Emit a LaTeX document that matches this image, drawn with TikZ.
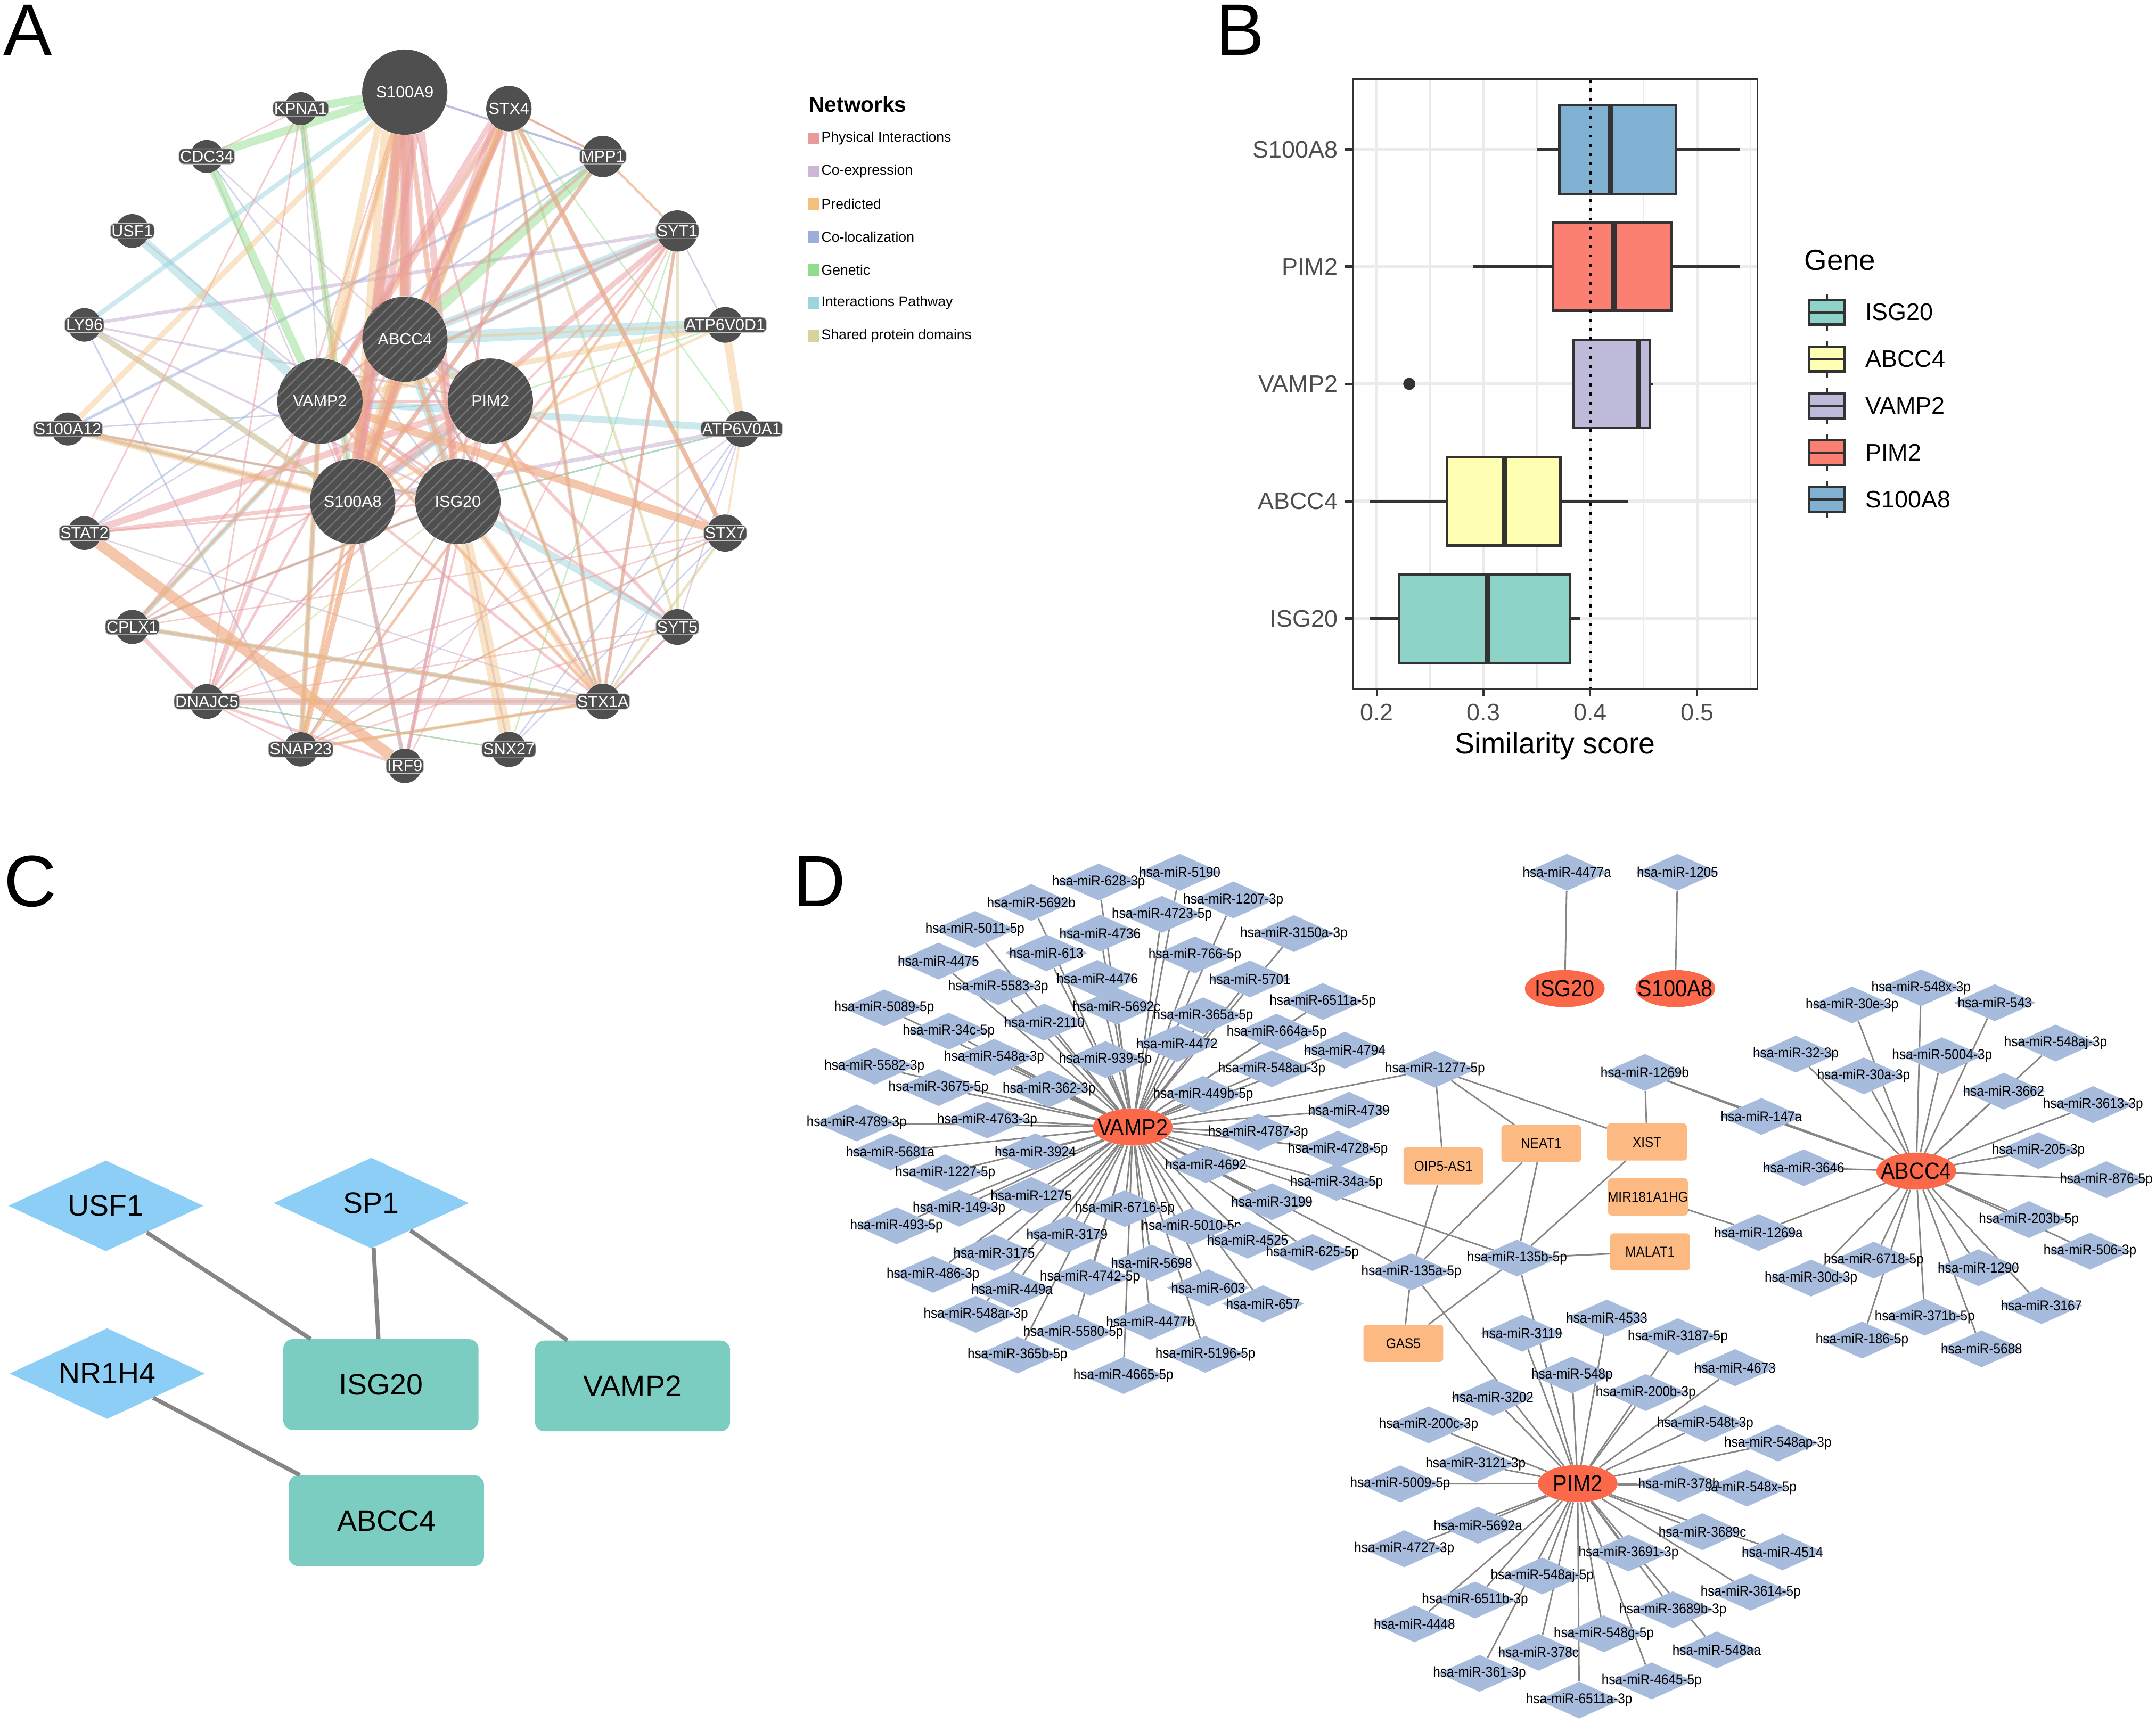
\documentclass[tikz,border=0pt]{standalone}
\usepackage{fontspec}
\setmainfont{Liberation Sans}
\usetikzlibrary{shapes.geometric}
\usetikzlibrary{patterns.meta}
\pgfdeclarelayer{back}
\pgfsetlayers{back,main}
\definecolor{genedark}{HTML}{4F4F4F}
\definecolor{hatchcol}{HTML}{767676}
\definecolor{rimcol}{HTML}{C8C8C8}
\definecolor{physcol}{HTML}{E99A9B}
\definecolor{coexcol}{HTML}{CCB6D6}
\definecolor{predcol}{HTML}{F4BE7C}
\definecolor{colocol}{HTML}{9CAEDC}
\definecolor{genecol}{HTML}{8FDD8A}
\definecolor{pathcol}{HTML}{9AD6DC}
\definecolor{domcol}{HTML}{D8D29C}
\definecolor{mircol}{HTML}{A7BCDD}
\definecolor{hubcol}{HTML}{FC694A}
\definecolor{lnccol}{HTML}{FCBA82}
\definecolor{tfcol}{HTML}{8CCEF5}
\definecolor{mrnacol}{HTML}{7CCDC1}
\definecolor{plotdark}{HTML}{333333}
\definecolor{ticktext}{HTML}{4D4D4D}
\definecolor{gridcol}{HTML}{EBEBEB}
\tikzset{
  panel/.style={font=\fontsize{53}{53}\selectfont,inner sep=0pt},
  gene/.style={circle,inner sep=0pt,fill=genedark,text=white,font=\fontsize{11.8}{12}\selectfont},
  genelab/.style={rectangle,rounded corners=3.5pt,fill=genedark,draw=rimcol,line width=.5pt,text=white,inner xsep=.9pt,inner ysep=1.4pt,font=\fontsize{11.8}{12}\selectfont},
  query/.style={gene,minimum size=62pt,postaction={pattern={Lines[angle=45,distance=5.5pt,line width=.9pt]},pattern color=hatchcol}},
  phys/.style={physcol,opacity=.5},
  coex/.style={coexcol,opacity=.6},
  pred/.style={predcol,opacity=.42},
  colo/.style={colocol,opacity=.55},
  genet/.style={genecol,opacity=.5},
  pathw/.style={pathcol,opacity=.5},
  shdom/.style={domcol,opacity=.6},
  swatch/.style={fill,minimum size=8.4pt,inner sep=0pt},
  legtext/.style={anchor=west,inner sep=0pt,font=\fontsize{10.3}{12}\selectfont},
  ticklab/.style={ticktext,inner sep=0pt,font=\fontsize{17.4}{18}\selectfont},
  keylab/.style={anchor=west,inner sep=0pt,font=\fontsize{17.4}{18}\selectfont},
  tf/.style={diamond,fill=tfcol,minimum width=142pt,minimum height=66pt,inner sep=0pt,font=\fontsize{21.5}{22}\selectfont},
  mrna/.style={rectangle,rounded corners=7pt,fill=mrnacol,minimum width=142pt,minimum height=66pt,inner sep=0pt,font=\fontsize{21.5}{22}\selectfont},
  regline/.style={draw=gray!95,line width=3pt},
  mirna/.style={diamond,fill=mircol,minimum width=60pt,minimum height=27pt,inner sep=0pt,font=\fontsize{10.4}{11}\selectfont},
  hub/.style={ellipse,fill=hubcol,minimum width=58pt,minimum height=27pt,inner sep=0pt,font=\fontsize{17}{18}\selectfont},
  lnc/.style={rectangle,rounded corners=2.5pt,fill=lnccol,minimum width=58pt,minimum height=27pt,inner sep=0pt,font=\fontsize{10.4}{11}\selectfont},
  mirline/.style={draw=gray!95,line width=1.1pt}
}
\newcommand{\flatlab}[1]{\makebox[0pt][c]{#1}}
\newcommand{\narrowlab}[1]{\makebox[0pt][c]{\scalebox{.905}[1]{#1}}}
\newcommand{\mirlab}[1]{\narrowlab{hsa-miR-#1}}
\begin{document}
\begin{tikzpicture}[x=1pt,y=-1pt]
  \useasboundingbox (0,0) rectangle (1568,1252.8);
  \node[panel] (panelA) at (20,22) {A};
  \node[panel] (panelB) at (902,22) {B};
  \node[panel] (panelC) at (22,641) {C};
  \node[panel] (panelD) at (596,641) {D};

  \node[gene,minimum size=62pt] (aS100A9) at (294.4,67) {S100A9};
  \node[gene,minimum size=33pt] (aSTX4) at ({294.4+245*sin(18)},{312-245*cos(18)}) {STX4};
  \foreach \gname/\gi/\gd in {MPP1/2/30,SYT1/3/30,ATP6V0D1/4/26,ATP6V0A1/5/26,STX7/6/27,SYT5/7/26,STX1A/8/26,SNX27/9/25.6,IRF9/10/25,SNAP23/11/25,DNAJC5/12/25.4,CPLX1/13/24.8,STAT2/14/24.6,S100A12/15/24,LY96/16/24.4,USF1/17/24.6,CDC34/18/24,KPNA1/19/24}{
    \node[gene,minimum size=\gd pt] (a\gname) at ({294.4+245*sin(18*\gi)},{312-245*cos(18*\gi)}) {};
    \node[genelab] (t\gname) at (a\gname) {\gname};
  }
  \node[query] (aABCC4) at (294.5,246.7) {ABCC4};
  \node[query] (aVAMP2) at (232.7,291.7) {VAMP2};
  \node[query] (aPIM2) at (356.6,291.7) {PIM2};
  \node[query] (aS100A8) at (256.5,364.7) {S100A8};
  \node[query] (aISG20) at (333,364.7) {ISG20};

  \begin{pgfonlayer}{back}
    \foreach \ea/\eb/\ew in {STX4/STX1A/3,STX4/STX7/3,STX4/SYT5/2,STX7/STX1A/2,SYT1/SYT5/2,SYT1/STX1A/2,S100A12/S100A8/3,STX4/S100A8/2,STX4/ABCC4/2,MPP1/STX4/1,SNAP23/STX7/1.5,SNAP23/STX1A/2.5,DNAJC5/ISG20/1,MPP1/S100A8/3}
      \draw[shdom,line width=\ew pt] (a\ea) -- (a\eb);
    \foreach \ea/\eb/\ew in {LY96/SYT1/2.5,LY96/PIM2/1.5,LY96/ISG20/1.5,USF1/ISG20/1.2,CDC34/ABCC4/1,CDC34/S100A8/1,S100A9/MPP1/1.5,STX4/MPP1/1.5,STAT2/ABCC4/1,STAT2/STX1A/1,SNX27/DNAJC5/1,S100A8/ATP6V0A1/3,ATP6V0A1/SYT5/1,SYT5/STX1A/1.5,S100A12/ISG20/1.5,S100A12/S100A8/1.5,IRF9/ISG20/2,SNX27/ISG20/1.5,ATP6V0A1/SNAP23/1,DNAJC5/PIM2/1,KPNA1/VAMP2/1}
      \draw[coex,line width=\ew pt] (a\ea) -- (a\eb);
    \foreach \ea/\eb/\ew in {LY96/SNAP23/1.2,S100A9/MPP1/1.5,MPP1/S100A12/2,MPP1/STAT2/1.2,SYT1/ATP6V0D1/1,ATP6V0A1/STX1A/1,ATP6V0A1/ISG20/1.2,SNX27/ATP6V0A1/1,S100A12/ISG20/1.5,CPLX1/ISG20/1.2,S100A12/PIM2/1,SNX27/STX7/1,CDC34/ISG20/1}
      \draw[colo,line width=\ew pt] (a\ea) -- (a\eb);
    \foreach \ea/\eb/\ew in {KPNA1/S100A9/6,CDC34/S100A9/6,CDC34/VAMP2/6,KPNA1/S100A8/5,MPP1/ABCC4/8,STX4/ATP6V0A1/1,ATP6V0A1/ISG20/1,CPLX1/ISG20/1.2,DNAJC5/SNX27/1,SNAP23/ISG20/1,STX1A/PIM2/1,SNX27/SYT1/1,ATP6V0D1/PIM2/1}
      \draw[genet,line width=\ew pt] (a\ea) -- (a\eb);
    \foreach \ea/\eb/\ew in {USF1/VAMP2/7,LY96/S100A9/3.5,LY96/S100A8/4,SYT5/ISG20/5,SYT1/ABCC4/6,ATP6V0D1/ABCC4/9,ATP6V0A1/VAMP2/5,CPLX1/ABCC4/4,CPLX1/STX1A/3.5,DNAJC5/STX1A/2.5,SNAP23/VAMP2/3.5,IRF9/S100A8/2.5,PIM2/ABCC4/7,ISG20/ABCC4/7,S100A8/PIM2/5,STX1A/ABCC4/2,STX1A/PIM2/2,SYT1/VAMP2/3}
      \draw[pathw,line width=\ew pt] (a\ea) -- (a\eb);
    \foreach \ea/\eb/\ew in {S100A9/S100A8/9,S100A9/ABCC4/7,S100A9/ISG20/4,S100A9/VAMP2/2.5,S100A9/PIM2/1.5,STX4/VAMP2/5,STX4/S100A8/4,STX4/ABCC4/3,STX4/ISG20/2,STX4/STX7/3.5,STX4/STX1A/2,STX4/MPP1/1.5,MPP1/SYT1/1.5,MPP1/S100A8/3,MPP1/VAMP2/2,SYT1/VAMP2/2,SYT1/S100A8/4,SYT1/ISG20/2,SYT1/ABCC4/2,SYT1/STX1A/2.5,SYT1/SNAP23/2,SYT1/DNAJC5/1.5,SYT1/IRF9/1,STAT2/S100A8/3,STAT2/PIM2/5,STAT2/IRF9/8,STAT2/ISG20/1.5,STAT2/KPNA1/1.2,CPLX1/DNAJC5/3,CPLX1/STX1A/2,CPLX1/VAMP2/1.5,CPLX1/ABCC4/2,CPLX1/PIM2/1.5,CPLX1/ISG20/2,DNAJC5/STX1A/5,DNAJC5/VAMP2/3,DNAJC5/ABCC4/2,DNAJC5/S100A9/1.2,DNAJC5/SYT5/1,DNAJC5/STX7/1,DNAJC5/PIM2/1.5,DNAJC5/IRF9/2,SNAP23/ABCC4/4,SNAP23/S100A8/2,SNAP23/STX1A/1.5,SNAP23/VAMP2/2,SNAP23/STX7/1,SNAP23/ISG20/1,SNAP23/SYT5/1.2,SNAP23/DNAJC5/1.2,IRF9/S100A8/3,IRF9/ISG20/2.5,IRF9/PIM2/1.5,STX7/VAMP2/6,STX7/ABCC4/2,STX7/CPLX1/1,SYT5/VAMP2/2,SYT5/ABCC4/2.5,SYT5/STX1A/1.5,STX1A/VAMP2/2,STX1A/ABCC4/2,STX1A/ISG20/2,STX1A/S100A8/2,STX1A/PIM2/1.5,KPNA1/DNAJC5/1.2,KPNA1/CDC34/1,KPNA1/S100A8/1.2,VAMP2/PIM2/2,VAMP2/ISG20/3,VAMP2/S100A8/3,ABCC4/S100A8/4,ABCC4/ISG20/3,PIM2/S100A8/3,PIM2/ISG20/3}
      \draw[phys,line width=\ew pt] (a\ea) -- (a\eb);
    \foreach \ea/\eb/\ew in {S100A9/S100A8/5,S100A9/VAMP2/5,S100A9/S100A12/4,S100A9/ABCC4/4,ATP6V0D1/ATP6V0A1/6,ATP6V0D1/VAMP2/4,ATP6V0D1/S100A8/2,ATP6V0D1/ABCC4/2,ISG20/SNX27/9,ISG20/STX1A/5,PIM2/STX1A/3,VAMP2/STX1A/2.5,LY96/S100A8/4,S100A12/S100A8/5,S100A12/ISG20/2,STAT2/IRF9/8,VAMP2/SNAP23/4,ABCC4/SNAP23/4,S100A8/SNAP23/3,CPLX1/STX1A/3,CPLX1/ABCC4/2,STX4/S100A8/5,STX4/ABCC4/4,STX4/VAMP2/2,ABCC4/S100A8/8,VAMP2/STX7/6,MPP1/SYT1/1.5,STX4/STX7/2,MPP1/STX4/1.5,STX7/ATP6V0A1/1.5,SNAP23/STX1A/1.5,ISG20/VAMP2/3,ISG20/ABCC4/3,S100A9/ISG20/2,SYT1/SNAP23/1.5,DNAJC5/STX1A/1.5}
      \draw[pred,line width=\ew pt] (a\ea) -- (a\eb);
    \foreach \ea/\ang/\eb/\ew in {S100A9/232/VAMP2/5,S100A9/243/S100A8/6,S100A9/254/ABCC4/5}
      \draw[pred,line width=\ew pt] (a\ea.\ang) -- (a\eb);
    \foreach \ea/\ang/\eb/\ew in {S100A9/262/S100A8/7,S100A9/274/ABCC4/8,S100A9/285/S100A8/5,S100A9/293/ISG20/5,STX4/218/VAMP2/4,STX4/228/S100A8/4,STX4/255/ABCC4/3}
      \draw[phys,line width=\ew pt] (a\ea.\ang) -- (a\eb);
  \end{pgfonlayer}

  \node[inner sep=0pt,anchor=west,font=\bfseries\fontsize{15.7}{16}\selectfont] (nettitle) at (588.3,76) {Networks};
  \foreach \lname/\ly/\lcol in {Physical Interactions/100.5/physcol,Co-expression/124.5/coexcol,Predicted/148.4/predcol,Co-localization/172.3/colocol,Genetic/196.4/genecol,Interactions Pathway/220.3/pathcol,Shared protein domains/244.3/domcol}{
    \node[swatch,\lcol] (sw\ly) at (591.5,\ly) {};
    \node[legtext] (lg\ly) at (597.2,\ly) {\lname};
  }

  \begin{scope}[x=777pt,shift={(845.8pt,0pt)}]
    \foreach \gx in {.25,.35,.45,.55}
      \draw[gridcol,line width=1.1pt] (\gx,57.7) -- (\gx,500.9);
    \foreach \gx/\gt in {.2/0.2,.3/0.3,.4/0.4,.5/0.5}{
      \draw[gridcol,line width=2.2pt] (\gx,57.7) -- (\gx,500.9);
      \draw[plotdark,line width=1.4pt] (\gx,500.9) -- (\gx,506);
      \node[ticklab] (xt\gt) at (\gx,518) {\gt};
    }
    \foreach \bname/\by/\qa/\qb/\qm/\wa/\wb/\bcol in {S100A8/108.7/.371/.480/.419/.350/.540/80B1D3,PIM2/193.8/.365/.476/.422/.290/.540/FB8072,VAMP2/279.2/.384/.456/.445/.384/.459/BEBADA,ABCC4/364.5/.266/.372/.320/.194/.435/FFFFB3,ISG20/449.9/.221/.381/.304/.194/.390/8DD3C7}{
      \definecolor{boxcol}{HTML}{\bcol}
      \draw[gridcol,line width=2.2pt] (.1776,\by) -- (.5566,\by);
      \draw[plotdark,line width=1.8pt] (\wa,\by) -- (\qa,\by) (\qb,\by) -- (\wb,\by);
      \draw[plotdark,line width=1.8pt,fill=boxcol] (\qa,{\by-32.2}) rectangle (\qb,{\by+32.2});
      \draw[plotdark,line width=3.8pt] (\qm,{\by-32.2}) -- (\qm,{\by+32.2});
      \draw[plotdark,line width=1.8pt] (.1776,\by) ++(-5.5pt,0pt) -- ++(5.5pt,0pt);
      \node[ticklab,anchor=east] (yt\bname) at (.1637,\by) {\bname};
    }
    \fill[plotdark] (.2305,279.2) circle (4.4pt);
    \draw[black,line width=1.5pt,dash pattern=on 2.2pt off 4.5pt] (.4,57.7) -- (.4,500.9);
    \draw[plotdark,line width=1.2pt] (.1776,57.7) rectangle (.5566,500.9);
    \node[inner sep=0pt,font=\fontsize{21.5}{22}\selectfont] (xtitle) at (.367,542.6) {Similarity score};
  \end{scope}

  \node[inner sep=0pt,anchor=west,font=\fontsize{21.2}{22}\selectfont] (keytitle) at (1312,189.4) {Gene};
  \foreach \kname/\ky/\kcol in {ISG20/227.1/8DD3C7,ABCC4/261.1/FFFFB3,VAMP2/295.2/BEBADA,PIM2/329.2/FB8072,S100A8/363.2/80B1D3}{
    \definecolor{boxcol}{HTML}{\kcol}
    \draw[plotdark,line width=1.6pt] (1328.7,{\ky-13.3}) -- (1328.7,{\ky+13.3});
    \draw[plotdark,line width=1.8pt,fill=boxcol] (1315.7,{\ky-9}) rectangle (1341.7,{\ky+9});
    \draw[plotdark,line width=1.9pt] (1315.7,\ky) -- (1341.7,\ky);
    \node[keylab] (key\kname) at (1356.5,\ky) {\kname};
  }

  \node[tf] (USF1) at (77,877) {\flatlab{USF1}};
  \node[tf] (SP1) at (270,875) {\flatlab{SP1}};
  \node[tf] (NR1H4) at (78,999) {\flatlab{NR1H4}};
  \node[mrna] (cISG20) at (277,1007) {ISG20};
  \node[mrna] (cVAMP2) at (460,1008) {VAMP2};
  \node[mrna] (cABCC4) at (281,1106) {ABCC4};
  \draw[regline] (USF1) -- (cISG20);
  \draw[regline] (SP1) -- (cISG20);
  \draw[regline] (SP1) -- (cVAMP2);
  \draw[regline] (NR1H4) -- (cABCC4);

  \node[hub] (VAMP2) at (823.8,819.7) {\narrowlab{VAMP2}};
  \node[hub] (ABCC4) at (1393.6,851.8) {\narrowlab{ABCC4}};
  \node[hub] (PIM2) at (1147.4,1079) {\narrowlab{PIM2}};
  \node[hub] (ISG20) at (1138,719) {\narrowlab{ISG20}};
  \node[hub] (S100A8) at (1218.4,719) {\narrowlab{S100A8}};

  \foreach \mx/\my/\mlab in {858/634.4/5190,799/641.5/628-3p,750/656.4/5692b,897/654.5/1207-3p,845/665/4723-5p,709/676/5011-5p,800/678.7/4736,941/679/3150a-3p,761/693/613,869/694.5/766-5p,682.5/699/4475,798/711.6/4476,726/717.6/5583-3p,909/712/5701,643/733/5089-5p,812/731.7/5692c,962/728.4/6511a-5p,875/738.8/365a-5p,690/750/34c-5p,759.5/743.4/2110,928.5/750.7/664a-5p,856/759/4472,978/763.8/4794,723/769/548a-3p,804/770.6/939-5p,636/775.4/5582-3p,925/777.3/548au-3p,682.5/791/3675-5p,763/792/362-3p,875/796/449b-5p,981/807.5/4739,623/816.7/4789-3p,718/814.6/4763-3p,915/823.5/4787-3p,973/835.8/4728-5p,647.5/837.7/5681a,753/837.7/3924,687.5/853/1227-5p,877/847/4692,972/860/34a-5p,925/874/3199,750/869.4/1275,697.5/878.7/149-3p,818/879/6716-5p,652/891.5/493-5p,866.5/892/5010-5p,776/897.7/3179,907.4/902/4525,954.5/911/625-5p,723/911/3175,837.5/918.6/5698,678.6/926.8/486-3p,792.7/929/4742-5p,736/937.6/449a,878.6/936.6/603,918.6/948.2/657,709.7/955.9/548ar-3p,836.6/961/4477b,780.5/969/5580-5p,740/985.5/365b-5p,876.6/985/5196-5p,817/1000.4/4665-5p}{
    \node[mirna] (miR-\mlab) at (\mx,\my) {\mirlab{\mlab}};
    \begin{pgfonlayer}{back}
      \draw[mirline] (miR-\mlab) -- (VAMP2);
    \end{pgfonlayer}
  }
  \foreach \mx/\my/\mlab in {1397.1/718.4/548x-3p,1347/730.9/30e-3p,1450.7/729.3/543,1495/758.6/548aj-3p,1306/766.7/32-3p,1412.4/767.8/5004-3p,1355.4/782.5/30a-3p,1457.2/793.6/3662,1522.2/803.4/3613-3p,1482.4/836.8/205-3p,1531.8/858/876-5p,1475.5/887/203b-5p,1520/910/506-3p,1362.7/916.5/6718-5p,1438.8/922/1290,1317.1/929.5/30d-3p,1484.7/949.6/3167,1399.8/958/371b-5p,1354.2/974.6/186-5p,1441.1/981/5688,1281/812/147a,1311.8/849.3/3646,1278.9/896.4/1269a,1196.2/780/1269b}{
    \node[mirna] (miR-\mlab) at (\mx,\my) {\mirlab{\mlab}};
    \begin{pgfonlayer}{back}
      \draw[mirline] (miR-\mlab) -- (ABCC4);
    \end{pgfonlayer}
  }
  \foreach \mx/\my/\mlab in {1168.6/958.6/4533,1107/969.7/3119,1220.2/972.2/3187-5p,1261.8/994.7/4673,1143.3/1000/548p,1196.9/1012.8/200b-3p,1085.7/1016.3/3202,1240.1/1035.3/548t-3p,1039/1036.3/200c-3p,1293/1049.5/548ap-3p,1073.2/1064.8/3121-3p,1018.3/1079.2/5009-5p,1270.5/1082.3/548x-5p,1221/1079/378h,1074.9/1109.3/5692a,1238.1/1114/3689c,1021.3/1126.4/4727-3p,1296.3/1128.7/4514,1184.4/1129.5/3691-3p,1121.6/1146.2/548aj-5p,1273.2/1158/3614-5p,1072.7/1163.7/6511b-3p,1216.7/1170.8/3689b-3p,1028.7/1181/4448,1166.4/1188.3/548g-5p,1248.5/1200/548aa,1118.9/1201.7/378c,1076/1217/361-3p,1201.2/1222.5/4645-5p,1148.5/1236.5/6511a-3p}{
    \node[mirna] (miR-\mlab) at (\mx,\my) {\mirlab{\mlab}};
    \begin{pgfonlayer}{back}
      \draw[mirline] (miR-\mlab) -- (PIM2);
    \end{pgfonlayer}
  }
  \node[mirna] (miR-4477a) at (1139.6,634.4) {\mirlab{4477a}};
  \node[mirna] (miR-1205) at (1220,634.4) {\mirlab{1205}};
  \node[mirna] (miR-1277-5p) at (1043.6,777.6) {\mirlab{1277-5p}};
  \node[mirna] (miR-135b-5p) at (1103.3,915) {\mirlab{135b-5p}};
  \node[mirna] (miR-135a-5p) at (1026.4,925) {\mirlab{135a-5p}};
  \node[lnc] (OIP5) at (1049.7,848) {\narrowlab{OIP5-AS1}};
  \node[lnc] (NEAT1) at (1120.9,831.7) {\narrowlab{NEAT1}};
  \node[lnc] (XIST) at (1197.8,830.6) {\narrowlab{XIST}};
  \node[lnc] (MIR181) at (1198.5,870.5) {\narrowlab{MIR181A1HG}};
  \node[lnc] (MALAT1) at (1200,910.5) {\narrowlab{MALAT1}};
  \node[lnc] (GAS5) at (1020.6,977) {\narrowlab{GAS5}};
  \begin{pgfonlayer}{back}
    \foreach \ea/\eb in {miR-4477a/ISG20,miR-1205/S100A8,miR-1277-5p/VAMP2,miR-1277-5p/OIP5,miR-1277-5p/NEAT1,miR-1277-5p/XIST,miR-1269b/XIST,miR-147a/miR-1269b,XIST/miR-135b-5p,NEAT1/miR-135b-5p,NEAT1/miR-135a-5p,OIP5/miR-135a-5p,MIR181/miR-1269a,MALAT1/miR-135b-5p,GAS5/miR-135a-5p,GAS5/miR-135b-5p,miR-135a-5p/VAMP2,miR-135b-5p/VAMP2,miR-135a-5p/PIM2,miR-135b-5p/PIM2}
      \draw[mirline] (\ea) -- (\eb);
  \end{pgfonlayer}
\end{tikzpicture}
\end{document}
